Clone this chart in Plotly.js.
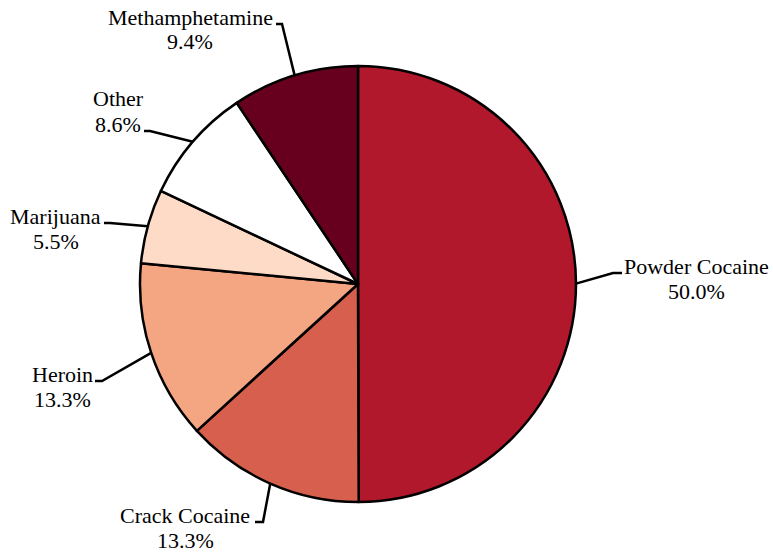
<!DOCTYPE html>
<html>
<head>
<meta charset="utf-8">
<script src="https://cdn.plot.ly/plotly-3.0.1.min.js"></script>
<style>html,body{margin:0;padding:0;background:#fff;}#chart{width:773px;height:553px;}</style>
</head>
<body>
<div id="chart"></div>
<script>
// ---- data ----
var categories = ["Powder Cocaine", "Crack Cocaine", "Heroin", "Marijuana", "Other", "Methamphetamine"];
var shares = [50.0, 13.3, 13.3, 5.5, 8.6, 9.4];
var colors = ["#B2182B", "#D6604D", "#F4A582", "#FDDBC7", "#FFFFFF", "#67001F"];

// ---- layout (pixels) ----
var W = 773, H = 553;
var CX = 358, CY = 284, R = 218;
// label layout: text centre x, first-line baseline y, elbow point, stub end point
var labelPos = [
  {tx: 696, by: 273, ex: 613, ey: 273, sx: 622, sy: 273},
  {tx: 185, by: 522, ex: 263, ey: 522, sx: 255, sy: 522},
  {tx: 62,  by: 381, ex: 102, ey: 381, sx: 95,  sy: 381},
  {tx: 56,  by: 223, ex: 110, ey: 223, sx: 104, sy: 223},
  {tx: 118, by: 106, ex: 150, ey: 131, sx: 144, sy: 131},
  {tx: 190, by: 24,  ex: 282, ey: 24,  sx: 276, sy: 24}
];
var LINE_GAP = 25;
var FONT = {family: "Liberation Serif", size: 22, color: "#000"};

function px(x) { return x / W; }
function py(y) { return 1 - y / H; }

var total = shares.reduce(function (a, b) { return a + b; }, 0);
var annotations = [], shapes = [];
var cum = 0;
for (var i = 0; i < shares.length; i++) {
  var mid = (cum + shares[i] / 2) / total * 2 * Math.PI;
  cum += shares[i];
  var x0 = CX + R * Math.sin(mid), y0 = CY - R * Math.cos(mid);
  var L = labelPos[i];
  shapes.push({
    type: "path", xref: "paper", yref: "paper",
    path: "M " + px(x0) + " " + py(y0) + " L " + px(L.ex) + " " + py(L.ey) + " L " + px(L.sx) + " " + py(L.sy),
    line: {color: "#000", width: 2.5}
  });
  annotations.push({
    xref: "paper", yref: "paper", x: px(L.tx), y: py(L.by - 7), xanchor: "center", yanchor: "middle",
    text: categories[i], showarrow: false, font: FONT
  });
  annotations.push({
    xref: "paper", yref: "paper", x: px(L.tx), y: py(L.by + LINE_GAP - 7), xanchor: "center", yanchor: "middle",
    text: shares[i].toFixed(1) + "%", showarrow: false, font: FONT
  });
}

var trace = {
  type: "pie",
  labels: categories,
  values: shares,
  sort: false,
  direction: "clockwise",
  rotation: 0,
  textinfo: "none",
  hoverinfo: "label+percent",
  marker: {colors: colors, line: {color: "#000", width: 2.5}},
  domain: {x: [(CX - R) / W, (CX + R) / W], y: [(H - CY - R) / H, (H - CY + R) / H]},
  showlegend: false
};

var layout = {
  width: W, height: H,
  margin: {l: 0, r: 0, t: 0, b: 0},
  paper_bgcolor: "#fff",
  font: FONT,
  showlegend: false,
  annotations: annotations,
  shapes: shapes
};

Plotly.newPlot("chart", [trace], layout, {displayModeBar: false, staticPlot: true});
</script>
</body>
</html>
